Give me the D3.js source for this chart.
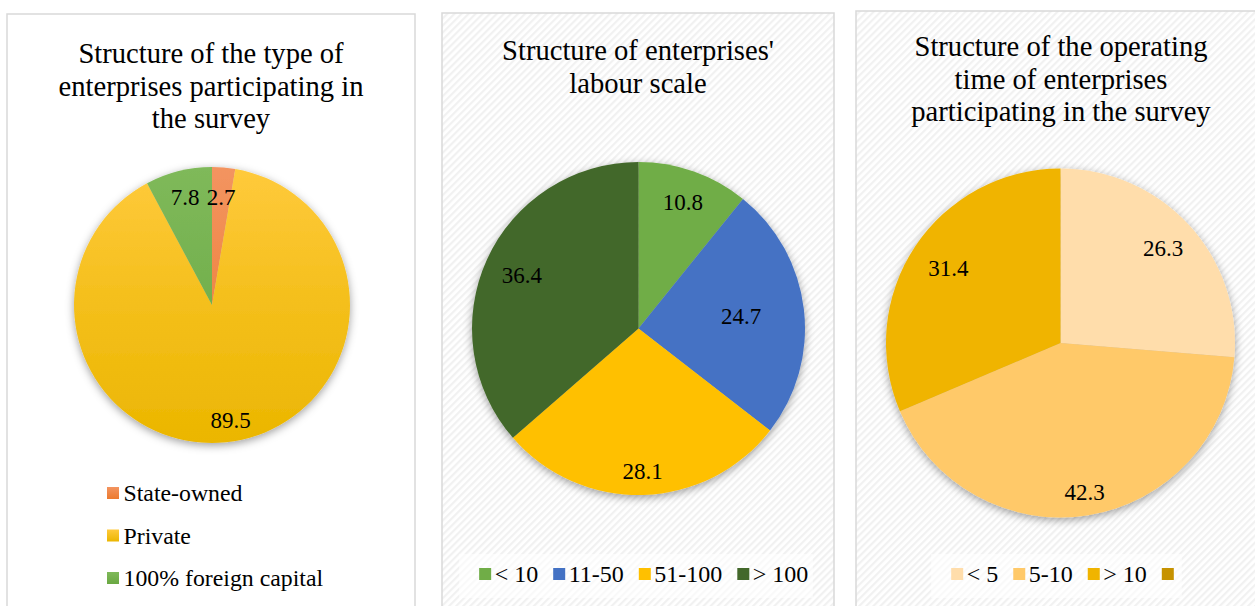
<!DOCTYPE html>
<html>
<head>
<meta charset="utf-8">
<script src="https://cdn.jsdelivr.net/npm/d3@7"></script>
<style>
  html, body { margin: 0; padding: 0; background: #ffffff; }
  svg { display: block; }
</style>
</head>
<body>
<svg id="chart" width="1255" height="606" font-family="'Liberation Serif', 'Times New Roman', Times, serif"></svg>
<script>
// ---- Data ----
const typeTitle = ["Structure of the type of", "enterprises participating in", "the survey"];
const typeCategories = ["State-owned", "Private", "100% foreign capital"];
const typeValues = [2.7, 89.5, 7.8];

const labourTitle = ["Structure of enterprises'", "labour scale"];
const labourCategories = ["< 10", "11-50", "51-100", "> 100"];
const labourValues = [10.8, 24.7, 28.1, 36.4];

const timeTitle = ["Structure of the operating", "time of enterprises", "participating in the survey"];
const timeCategories = ["< 5", "5-10", "> 10", ""];
const timeValues = [26.3, 42.3, 31.4, 0];

// ---- Styles / layout ----
const FONT = "'Liberation Serif', 'Times New Roman', Times, serif";
const typeColors = [["#F39460", "#EC7A2E"], ["#FFCA3C", "#EBB600"], ["#7FB95A", "#6AA842"]];
const labourColors = ["#70AD47", "#4472C4", "#FFC000", "#43682B"];
const timeColors = ["#FFDDAB", "#FFC969", "#F0B400", "#C69200"];

const svg = d3.select("#chart");
const defs = svg.append("defs");

// hatch pattern
const pat = defs.append("pattern")
  .attr("id", "hatch").attr("patternUnits", "userSpaceOnUse")
  .attr("width", 5).attr("height", 5)
  .attr("patternTransform", "rotate(45)");
pat.append("rect").attr("width", 5).attr("height", 5).attr("fill", "#ffffff");
pat.append("rect").attr("width", 2.2).attr("height", 5).attr("fill", "#f1f1f1");

// shadow filter
const f = defs.append("filter").attr("id", "shadow")
  .attr("x", "-20%").attr("y", "-20%").attr("width", "140%").attr("height", "140%");
f.append("feDropShadow").attr("dx", 0).attr("dy", 2.5).attr("stdDeviation", 4)
  .attr("flood-color", "#000").attr("flood-opacity", 0.38);

// panels
const panels = [
  { x: 7, y: 14, w: 408, hatch: false },
  { x: 442, y: 13, w: 392, hatch: true },
  { x: 856, y: 11, w: 410, hatch: true }
];
panels.forEach(p => {
  svg.append("rect")
    .attr("x", p.x).attr("y", p.y).attr("width", p.w).attr("height", 620)
    .attr("fill", p.hatch ? "url(#hatch)" : "#ffffff")
    .attr("stroke", "#d9d9d9").attr("stroke-width", 1.5);
});

function addText(sel) {
  return sel.append("text").attr("font-family", FONT).attr("fill", "#000");
}

function drawTitle(lines, cx, y0) {
  const t = addText(svg).attr("text-anchor", "middle").attr("font-size", 28.6);
  lines.forEach((l, i) => {
    t.append("tspan").attr("x", cx).attr("y", y0 + i * 32.5).text(l);
  });
}

const pie = d3.pie().sort(null).value(d => d);

function drawPie(values, cx, cy, r, fillFn, labelFactors) {
  const g = svg.append("g").attr("transform", `translate(${cx},${cy})`);
  const arcs = pie(values);
  const arc = d3.arc().innerRadius(0).outerRadius(r);
  const sg = g.append("g").attr("filter", "url(#shadow)");
  sg.selectAll("path").data(arcs).enter().append("path")
    .attr("d", arc)
    .attr("fill", (d, i) => fillFn(i));
  arcs.forEach((d, i) => {
    if (d.value <= 0) return;
    const lr = r * labelFactors[i];
    const la = d3.arc().innerRadius(lr).outerRadius(lr);
    const [x, y] = la.centroid(d);
    addText(g)
      .attr("x", x).attr("y", y)
      .attr("text-anchor", "middle").attr("dominant-baseline", "central")
      .attr("font-size", 23)
      .text(d3.format(".1f")(d.value));
  });
}

// ---- Chart 1 ----
drawTitle(typeTitle, 211, 63);
const c1 = { cx: 212, cy: 305, r: 138 };
typeColors.forEach((c, i) => {
  const lg = defs.append("linearGradient").attr("id", "g1_" + i)
    .attr("gradientUnits", "userSpaceOnUse")
    .attr("x1", 0).attr("x2", 0).attr("y1", -c1.r).attr("y2", c1.r);
  lg.append("stop").attr("offset", "0%").attr("stop-color", c[0]);
  lg.append("stop").attr("offset", "50%").attr("stop-color", d3.interpolateRgb(c[0], c[1])(0.55));
  lg.append("stop").attr("offset", "100%").attr("stop-color", c[1]);
  const lg2 = defs.append("linearGradient").attr("id", "lg1_" + i)
    .attr("x1", 0).attr("x2", 0).attr("y1", 0).attr("y2", 1);
  lg2.append("stop").attr("offset", "0%").attr("stop-color", c[0]);
  lg2.append("stop").attr("offset", "100%").attr("stop-color", c[1]);
});
drawPie(typeValues, c1.cx, c1.cy, c1.r, i => `url(#g1_${i})`, [0.78, 0.85, 0.8]);

// vertical legend
const leg1 = svg.append("g");
typeCategories.forEach((name, i) => {
  const y = 493 + i * 42.5;
  leg1.append("rect").attr("x", 107).attr("y", y - 6).attr("width", 12).attr("height", 12)
    .attr("fill", `url(#lg1_${i})`);
  addText(leg1).attr("x", 123.5).attr("y", y).attr("dominant-baseline", "central")
    .attr("font-size", 23.8).text(name);
});

// ---- Chart 2 ----
drawTitle(labourTitle, 638, 60);
drawPie(labourValues, 638.5, 328.5, 166.5, i => labourColors[i], [0.8, 0.62, 0.86, 0.77]);

// ---- Chart 3 ----
drawTitle(timeTitle, 1061, 56);
drawPie(timeValues, 1060.5, 343, 174.5, i => timeColors[i], [0.8, 0.87, 0.77, 0.8]);

// horizontal legends
function hLegend(cats, colors, cx, cy) {
  const g = svg.append("g");
  const bg = g.append("rect");
  const items = g.append("g");
  const gap = 15;
  let x = 0;
  cats.forEach((name, i) => {
    items.append("rect").attr("x", x).attr("y", cy - 6).attr("width", 12).attr("height", 12)
      .attr("fill", colors[i]);
    x += 15.5;
    const t = addText(items).attr("x", x).attr("y", cy)
      .attr("dominant-baseline", "central").attr("font-size", 24).text(name);
    x += (name ? t.node().getComputedTextLength() : 0) + gap;
  });
  const total = x - gap - 3.5;
  const x0 = cx - total / 2;
  items.attr("transform", `translate(${x0},0)`);
  bg.attr("x", x0 - 20).attr("y", cy - 20).attr("width", total + 28).attr("height", 44)
    .attr("fill", "#ffffff").attr("fill-opacity", 0.6);
}
hLegend(labourCategories, labourColors, 642, 574);
hLegend(timeCategories, timeColors, 1062.5, 574);
</script>
</body>
</html>
